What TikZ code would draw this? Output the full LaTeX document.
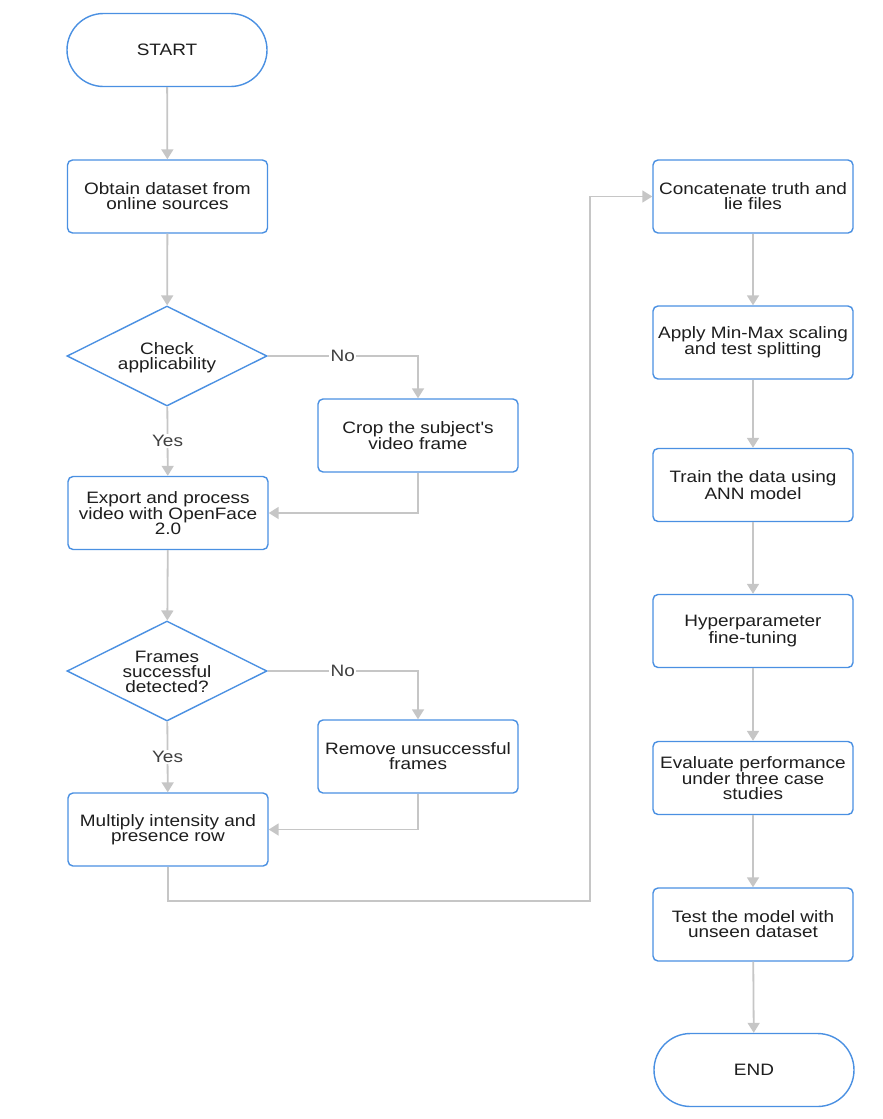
\documentclass[tikz,border=0pt]{standalone}
\usepackage{fontspec}
\newfontfamily\lab[FakeStretch=1.15]{Liberation Sans}
\usetikzlibrary{arrows.meta,shapes.geometric}
\definecolor{bblue}{HTML}{4A90E2}
\definecolor{lgray}{HTML}{C6C6C6}
\definecolor{txt}{HTML}{1E1E1E}
\tikzset{
  base/.style={draw=bblue, line width=1.4pt, fill=white, align=center, inner sep=0pt,
    font=\lab\fontsize{16.5}{15}\selectfont, text=txt},
  box/.style={base, rounded corners=5pt, minimum width=200pt, minimum height=73pt},
  term/.style={base, rounded corners=36.5pt, minimum width=200pt, minimum height=73pt},
  dia/.style={base, diamond, aspect=2, minimum width=200pt, minimum height=100pt},
  dtext/.style={align=center, inner sep=0pt, font=\lab\fontsize{16.5}{15}\selectfont, text=txt},
  arr/.style={draw=lgray, line width=1.8pt, -{Triangle[width=12pt,length=10pt]}},
  lbl/.style={fill=white, inner sep=1.5pt, font=\lab\fontsize{16.5}{15}\selectfont, text=black!75}
}
\begin{document}
\begin{tikzpicture}[x=1pt,y=-1pt]
\useasboundingbox (0,0) rectangle (883,1119);
% left column
\node[term] (start) at (167,50) {START};
\node[box] (obtain) at (167.5,196.5) {Obtain dataset from\\online sources};
\node[dia] (check) at (167,356) {};
\node[dtext] at ([yshift=-2pt]check.center) {Check\\applicability};
\node[box] (crop) at (418,435.5) {Crop the subject's\\video frame};
\node[box] (export) at (168,513) {Export and process\\video with OpenFace\\2.0};
\node[dia] (frames) at (167,671) {};
\node[dtext] at ([yshift=-1pt]frames.center) {Frames\\successful\\detected?};
\node[box] (remove) at (418,756.5) {Remove unsuccessful\\frames};
\node[box] (mult) at (168,829.5) {Multiply intensity and\\presence row};
% right column
\node[box] (concat) at (753,196.5) {Concatenate truth and\\lie files};
\node[box] (apply) at (753,342.5) {Apply Min-Max scaling\\and test splitting};
\node[box] (train) at (753,485) {Train the data using\\ANN model};
\node[box] (hyper) at (753,631) {Hyperparameter\\fine-tuning};
\node[box] (eval) at (753,778) {Evaluate performance\\under three case\\studies};
\node[box] (test) at (753,924.5) {Test the model with\\unseen dataset};
\node[term] (end) at (754,1070) {END};
% connectors
\draw[arr] (start) -- (obtain);
\draw[arr] (obtain) -- (check);
\draw[arr] (check) -- node[lbl] {Yes} (export);
\draw[arr] (check.east) -- node[lbl] {No} (check.east -| crop) -- (crop.north);
\draw[arr] (crop.south) |- (export.east);
\draw[arr] (export) -- (frames);
\draw[arr] (frames) -- node[lbl] {Yes} (mult);
\draw[arr] (frames.east) -- node[lbl] {No} (frames.east -| remove) -- (remove.north);
\draw[arr] (remove.south) |- (mult.east);
\coordinate (b2) at (590,901);
\draw[arr] (mult.south) -- (mult.south |- b2) -- (b2) |- (concat.west);
\draw[arr] (concat) -- (apply);
\draw[arr] (apply) -- (train);
\draw[arr] (train) -- (hyper);
\draw[arr] (hyper) -- (eval);
\draw[arr] (eval) -- (test);
\draw[arr] (test) -- (end);
\end{tikzpicture}
\end{document}
